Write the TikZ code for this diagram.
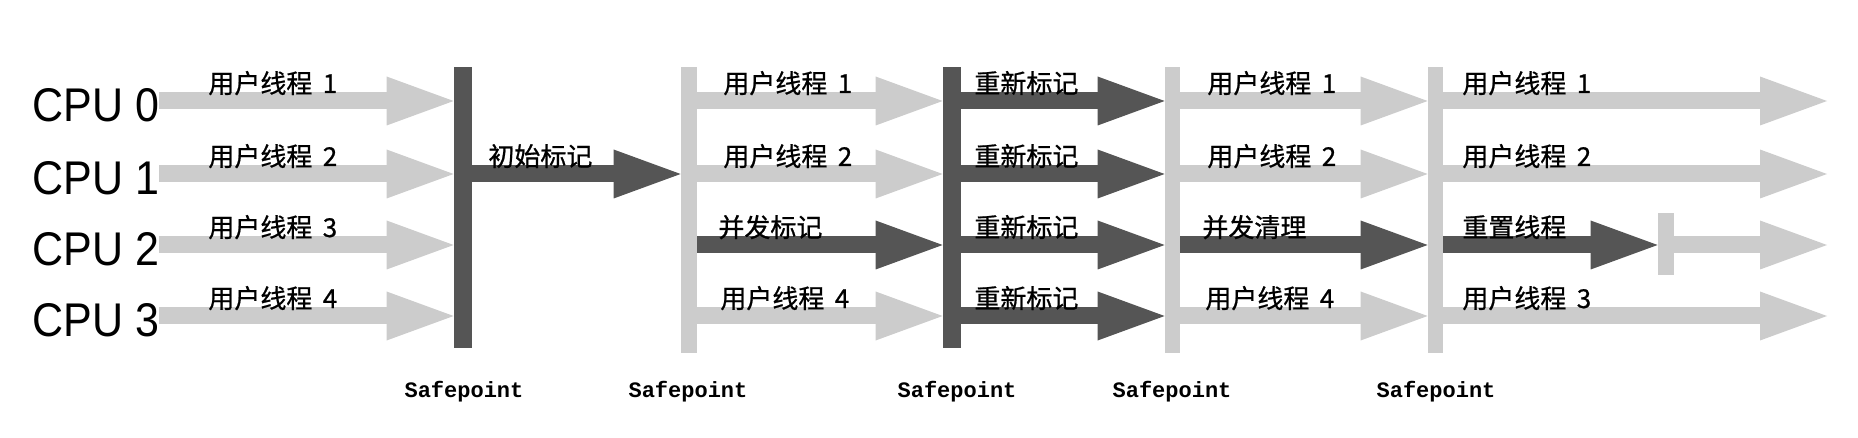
\documentclass[tikz,border=0pt]{standalone}
\usepackage{fontspec}
\newfontfamily\cjk[FakeBold=0.8]{Noto Sans CJK SC}
\newfontfamily\cpufont{Liberation Sans}
\newfontfamily\spfont{Liberation Mono}
\usetikzlibrary{arrows.meta}
\definecolor{lightc}{RGB}{204,204,204}
\definecolor{darkc}{RGB}{85,85,85}
\tikzset{
  fat/.style={line width=8.5pt, -{Triangle[length=33.5pt,width=24.5pt,line width=0pt]}},
  larrow/.style={fat, draw=lightc},
  darrow/.style={fat, draw=darkc},
  darkbar/.style={fill=darkc, draw=none, inner sep=0, minimum width=9pt, minimum height=140.5pt},
  lightbar/.style={fill=lightc, draw=none, inner sep=0, minimum width=7.5pt, minimum height=143pt},
  lbl/.style={anchor=base west, inner sep=0, font=\cjk\fontsize{13pt}{13pt}\selectfont},
  cpu/.style={anchor=west, inner sep=0, font=\cpufont\fontsize{21.5pt}{22pt}\selectfont},
  sp/.style={anchor=base, inner sep=0, font=\spfont\bfseries\fontsize{11pt}{11pt}\selectfont},
}
\newcommand{\ut}[1]{用户线程\hspace{0.4em}#1}
\begin{document}
\begin{tikzpicture}[x=0.5pt,y=-0.5pt]
\useasboundingbox (0,0) rectangle (1858,438);
% rows
\coordinate (r0) at (0,101);
\coordinate (r1) at (0,174);
\coordinate (r2) at (0,245);
\coordinate (r3) at (0,316);
\coordinate (e0) at (1827,101);
\coordinate (e1) at (1827,174);
\coordinate (e2) at (1827,245);
\coordinate (e3) at (1827,316);
% CPU labels
\node[cpu] (c0) at (32,105) {\scalebox{1}[1.1]{CPU 0}};
\node[cpu] (c1) at (32,178) {\scalebox{1}[1.1]{CPU 1}};
\node[cpu] (c2) at (32,249) {\scalebox{1}[1.1]{CPU 2}};
\node[cpu] (c3) at (32,320) {\scalebox{1}[1.1]{CPU 3}};
% safepoint bars
\node[darkbar] (b1) at (463,207.5) {};
\node[lightbar, minimum width=8pt] (b2) at (689,210) {};
\node[darkbar] (b3) at (952,207.5) {};
\node[lightbar] (b4) at (1172.5,210) {};
\node[lightbar] (b5) at (1435.5,210) {};
\node[lightbar, minimum width=8pt, minimum height=31pt] (b6) at (1666,244) {};
% column A
\draw[larrow] (c0.east |- r0) -- (b1.west |- r0);
\draw[larrow] (c1.east |- r1) -- (b1.west |- r1);
\draw[larrow] (c2.east |- r2) -- (b1.west |- r2);
\draw[larrow] (c3.east |- r3) -- (b1.west |- r3);
% column B
\draw[darrow] (b1.east |- r1) -- (b2.west |- r1);
% column C
\draw[larrow] (b2.east |- r0) -- (b3.west |- r0);
\draw[larrow] (b2.east |- r1) -- (b3.west |- r1);
\draw[darrow] (b2.east |- r2) -- (b3.west |- r2);
\draw[larrow] (b2.east |- r3) -- (b3.west |- r3);
% column D
\draw[darrow] (b3.east |- r0) -- (b4.west |- r0);
\draw[darrow] (b3.east |- r1) -- (b4.west |- r1);
\draw[darrow] (b3.east |- r2) -- (b4.west |- r2);
\draw[darrow] (b3.east |- r3) -- (b4.west |- r3);
% column E
\draw[larrow] (b4.east |- r0) -- (b5.west |- r0);
\draw[larrow] (b4.east |- r1) -- (b5.west |- r1);
\draw[darrow] (b4.east |- r2) -- (b5.west |- r2);
\draw[larrow] (b4.east |- r3) -- (b5.west |- r3);
% column F
\draw[larrow] (b5.east |- r0) -- (e0);
\draw[larrow] (b5.east |- r1) -- (e1);
\draw[darrow] (b5.east |- r2) -- (b6.west |- r2);
\draw[larrow] (b6.east |- r2) -- (e2);
\draw[larrow] (b5.east |- r3) -- (e3);
% labels
\node[lbl] (la0) at (208,93) {\ut{1}};
\node[lbl] (la1) at (208,166) {\ut{2}};
\node[lbl] (la2) at (208,237) {\ut{3}};
\node[lbl] (la3) at (208,308) {\ut{4}};
\node[lbl] (lb1) at (488,166) {初始标记};
\node[lbl] (lc0) at (723,93) {\ut{1}};
\node[lbl] (lc1) at (723,166) {\ut{2}};
\node[lbl] (lc2) at (718,237) {并发标记};
\node[lbl] (lc3) at (720,308) {\ut{4}};
\node[lbl] (ld0) at (974,93) {重新标记};
\node[lbl] (ld1) at (974,166) {重新标记};
\node[lbl] (ld2) at (974,237) {重新标记};
\node[lbl] (ld3) at (974,308) {重新标记};
\node[lbl] (le0) at (1207,93) {\ut{1}};
\node[lbl] (le1) at (1207,166) {\ut{2}};
\node[lbl] (le2) at (1202,237) {并发清理};
\node[lbl] (le3) at (1205,308) {\ut{4}};
\node[lbl] (lf0) at (1462,93) {\ut{1}};
\node[lbl] (lf1) at (1462,166) {\ut{2}};
\node[lbl] (lf2) at (1462,237) {重置线程};
\node[lbl] (lf3) at (1462,308) {\ut{3}};
% safepoint labels
\node[sp] (s1) at (464,397) {Safepoint};
\node[sp] (s2) at (688,397) {Safepoint};
\node[sp] (s3) at (957,397) {Safepoint};
\node[sp] (s4) at (1172,397) {Safepoint};
\node[sp] (s5) at (1436,397) {Safepoint};
\end{tikzpicture}
\end{document}
